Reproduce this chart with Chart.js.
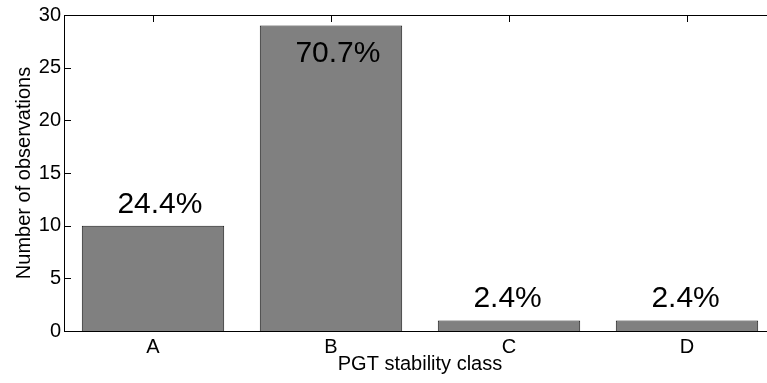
<!DOCTYPE html>
<html>
<head>
<meta charset="utf-8">
<script src="https://cdn.jsdelivr.net/npm/chart.js@4"></script>
<style>
  html, body { margin: 0; padding: 0; background: #fff; overflow: hidden; }
  #wrap { width: 767px; height: 383px; overflow: hidden; }
</style>
</head>
<body>
<div id="wrap"><canvas id="barChart" width="776" height="383"></canvas></div>
<script>
// datos del grafico
const classes = ["A", "B", "C", "D"];
const observations = [10, 29, 1, 1];
const yTicks = [0, 5, 10, 15, 20, 25, 30];

const FONT = "'Liberation Sans', Arial, sans-serif";
const total = observations.reduce((a, b) => a + b, 0);

// marco y ticks hacia adentro, estilo matlab
const framePlugin = {
    id: "frame",
    beforeDatasetsDraw(chart) {
        const { ctx, chartArea: a, scales } = chart;
        ctx.save();
        ctx.strokeStyle = "#000";
        ctx.lineWidth = 1;
        ctx.beginPath();
        yTicks.forEach(v => {
            const y = Math.round(scales.y.getPixelForValue(v)) + 0.5;
            ctx.moveTo(a.left, y); ctx.lineTo(a.left + 7, y);
            ctx.moveTo(a.right, y); ctx.lineTo(a.right - 7, y);
        });
        classes.forEach((c, i) => {
            const x = Math.round(scales.x.getPixelForValue(i)) + 0.5;
            ctx.moveTo(x, a.top); ctx.lineTo(x, a.top + 7);
            ctx.moveTo(x, a.bottom); ctx.lineTo(x, a.bottom - 7);
        });
        ctx.stroke();
        ctx.restore();
    },
    afterDatasetsDraw(chart) {
        const { ctx, chartArea: a, scales } = chart;
        ctx.save();
        ctx.strokeStyle = "#000";
        ctx.lineWidth = 1;
        ctx.strokeRect(Math.round(a.left) + 0.5, Math.round(a.top) + 0.5,
            Math.round(a.right - a.left), Math.round(a.bottom - a.top));

        // porcentajes sobre las barras
        ctx.fillStyle = "#000";
        ctx.font = "30px " + FONT;
        ctx.textAlign = "left";
        ctx.textBaseline = "alphabetic";
        const catW = (a.right - a.left) / classes.length;
        observations.forEach((v, i) => {
            const txt = (v / total * 100).toFixed(1) + "%";
            const x = scales.x.getPixelForValue(i) - 0.2 * catW;
            const top = scales.y.getPixelForValue(v);
            let y = top - 13;
            if (y - 22 < a.top) y = top + 36; // no cabe arriba
            ctx.fillText(txt, x, y);
        });
        ctx.restore();
    }
};

const ctx = document.getElementById("barChart").getContext("2d");
const myBarChart = new Chart(ctx, {
    type: "bar",
    data: {
        labels: classes,
        datasets: [
            {
                label: "Observations",
                data: observations,
                backgroundColor: "#808080",
                borderColor: "#1a1a1a",
                borderWidth: 1,
                categoryPercentage: 1.0,
                barPercentage: 0.8
            }
        ]
    },
    options: {
        responsive: false,
        animation: false,
        devicePixelRatio: 1,
        layout: { padding: { top: 13, left: 0, right: 0, bottom: 0 } },
        plugins: {
            legend: { display: false },
            tooltip: { enabled: false }
        },
        scales: {
            x: {
                grid: { display: false, drawTicks: false },
                border: { display: false },
                ticks: { color: "#000", font: { family: FONT, size: 20 }, padding: 4 },
                title: {
                    display: true,
                    text: "PGT stability class",
                    color: "#000",
                    font: { family: FONT, size: 20 },
                    padding: { top: 0, bottom: 7 }
                },
                afterFit: s => { s.height = 52; }
            },
            y: {
                min: 0,
                max: 30,
                grid: { display: false, drawTicks: false },
                border: { display: false },
                ticks: {
                    stepSize: 5,
                    color: "#000",
                    font: { family: FONT, size: 20 },
                    padding: 3
                },
                title: {
                    display: true,
                    text: "Number of observations",
                    color: "#000",
                    font: { family: FONT, size: 20 },
                    padding: { top: 12, bottom: 0 }
                },
                afterFit: s => { s.width = 64; }
            }
        }
    },
    plugins: [framePlugin]
});
</script>
</body>
</html>
